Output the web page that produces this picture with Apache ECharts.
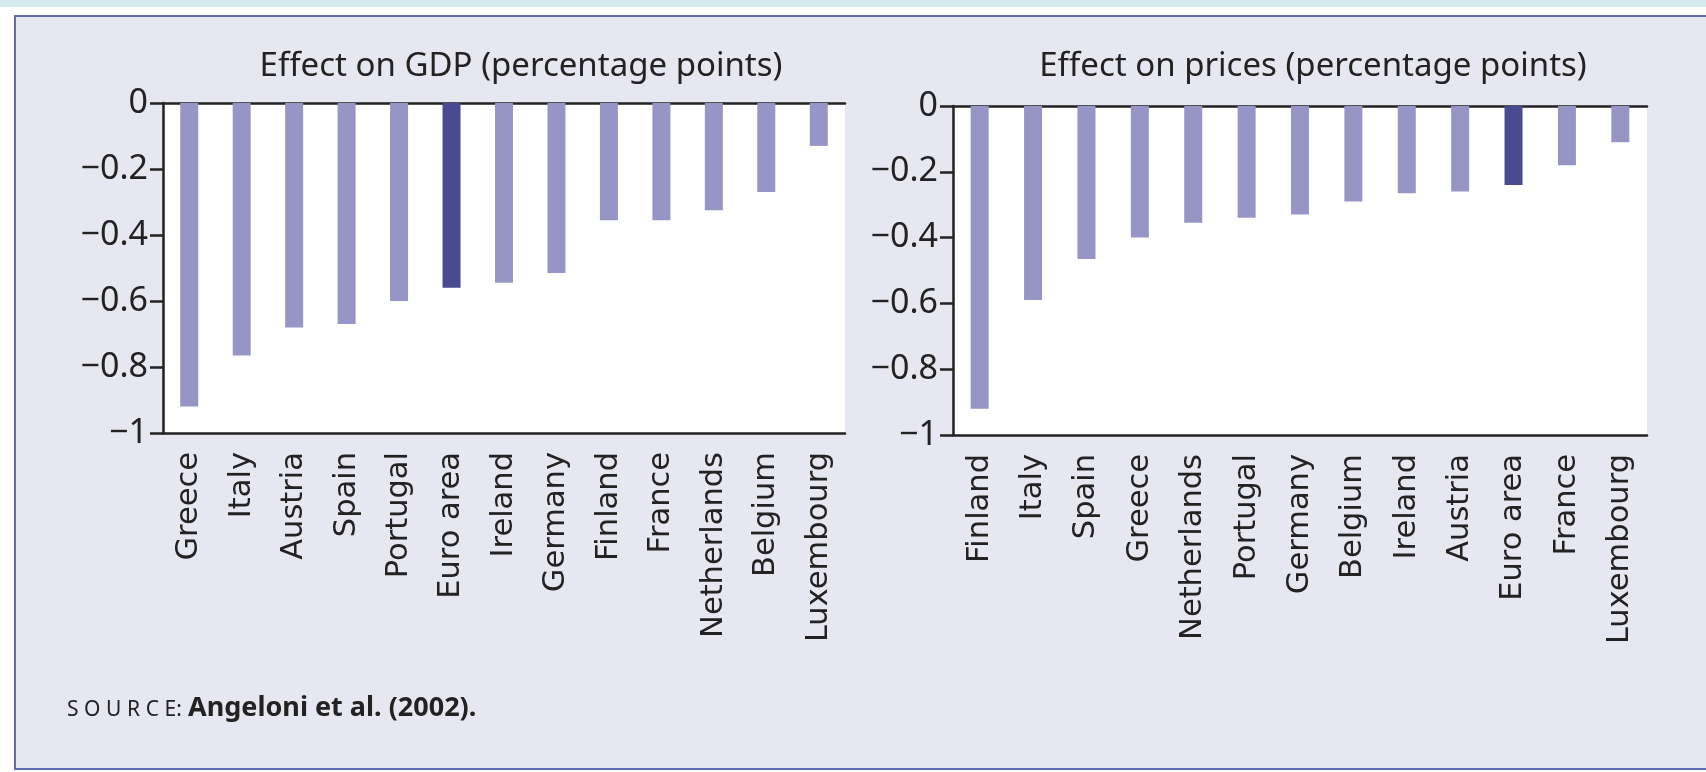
<!DOCTYPE html>
<html lang="en">
<head>
<meta charset="UTF-8">
<script src="https://cdn.jsdelivr.net/npm/echarts@6/dist/echarts.min.js"></script>
<title>Effect on GDP and prices</title>
<style>
  *{margin:0;padding:0}
  html,body{width:100%;height:100%;background:#fff;overflow:hidden}
  .strip{position:absolute;left:0;top:0;width:1706px;height:7px;background:#d6ebee}
  .box{position:absolute;left:14px;top:15px;width:1700px;height:751px;
       background:#e7e7f1;border:2px solid #5d6db0}
  #main{position:absolute;left:0;top:0;width:1706px;height:772px}
</style>
</head>
<body>
<div class="strip"></div>
<div class="box"></div>
<div id="main"></div>
<script type="text/javascript">
// GDP panel
var gdpCountries = ['Greece','Italy','Austria','Spain','Portugal','Euro area','Ireland',
                    'Germany','Finland','France','Netherlands','Belgium','Luxembourg'];
var gdpValues = [-0.92, -0.765, -0.68, -0.67, -0.60, -0.56, -0.545, -0.515, -0.355, -0.355, -0.325, -0.27, -0.13];

// prices panel
var priceCountries = ['Finland','Italy','Spain','Greece','Netherlands','Portugal','Germany',
                      'Belgium','Ireland','Austria','Euro area','France','Luxembourg'];
var priceValues = [-0.92, -0.59, -0.465, -0.40, -0.355, -0.34, -0.33, -0.29, -0.265, -0.26, -0.24, -0.18, -0.11];

var light = '#9695c5';
var dark = '#4a4a90';
var ink = '#222';

var myChart = echarts.init(document.getElementById('main'));

function barData(names, vals) {
  var out = [];
  for (var i = 0; i < names.length; i++) {
    out.push({value: vals[i], itemStyle: {color: names[i] === 'Euro area' ? dark : light}});
  }
  return out;
}

function yLabel(v) {
  if (v === 0) return '0';
  return '\u2212' + String(Math.abs(+v.toFixed(1)));
}

function catAxis(idx, names) {
  return {
    type: 'category', gridIndex: idx, data: names, position: 'bottom',
    axisLine: {onZero: false, lineStyle: {color: ink, width: 2.5}},
    axisTick: {length: 13, lineStyle: {color: ink, width: 2.5}},
    axisLabel: {interval: 0, rotate: 90, margin: 19, color: ink,
                fontFamily: 'DejaVu Sans', fontSize: 30.5}
  };
}
function zeroAxis(idx) {
  return {
    type: 'category', gridIndex: idx, position: 'top', data: [],
    axisLine: {lineStyle: {color: ink, width: 2.5}},
    axisTick: {show: false}, axisLabel: {show: false}
  };
}
function valAxis(idx) {
  return {
    type: 'value', gridIndex: idx, min: -1, max: 0, interval: 0.2,
    axisLine: {show: true, lineStyle: {color: ink, width: 2.5}},
    axisTick: {show: true, length: 13, lineStyle: {color: ink, width: 2.5}},
    splitLine: {show: false},
    axisLabel: {margin: 15, color: ink, fontFamily: 'Noto Sans', fontSize: 34,
                formatter: yLabel}
  };
}

var option = {
  animation: false,
  grid: [
    {left: 163, top: 103, width: 682, height: 330, show: true, backgroundColor: '#fff', borderWidth: 0},
    {left: 953, top: 106, width: 694, height: 329, show: true, backgroundColor: '#fff', borderWidth: 0}
  ],
  xAxis: [catAxis(0, gdpCountries), catAxis(1, priceCountries), zeroAxis(0), zeroAxis(1)],
  yAxis: [valAxis(0), valAxis(1)],
  series: [
    {type: 'bar', xAxisIndex: 0, yAxisIndex: 0, barWidth: 18, data: barData(gdpCountries, gdpValues)},
    {type: 'bar', xAxisIndex: 1, yAxisIndex: 1, barWidth: 18, data: barData(priceCountries, priceValues)}
  ],
  graphic: [
    {type: 'text', x: 521, y: 67, style: {text: 'Effect on GDP (percentage points)', align: 'center',
      verticalAlign: 'middle', fill: ink, font: '33px "Noto Sans"'}},
    {type: 'text', x: 1313, y: 67, style: {text: 'Effect on prices (percentage points)', align: 'center',
      verticalAlign: 'middle', fill: ink, font: '33px "Noto Sans"'}},
    // small caps "source" with loose tracking
    {type: 'text', x: 67, y: 710, style: {text: 'S\u2009\u200aO\u2009\u200aU\u2009\u200aR\u2009\u200aC\u2009\u200aE:',
      verticalAlign: 'middle', fill: ink, font: '21px "Noto Sans"'}},
    {type: 'text', x: 188, y: 708, style: {text: 'Angeloni et al. (2002).',
      verticalAlign: 'middle', fill: ink, font: 'bold 27px "Noto Sans"'}}
  ]
};
myChart.setOption(option);
</script>
</body>
</html>
